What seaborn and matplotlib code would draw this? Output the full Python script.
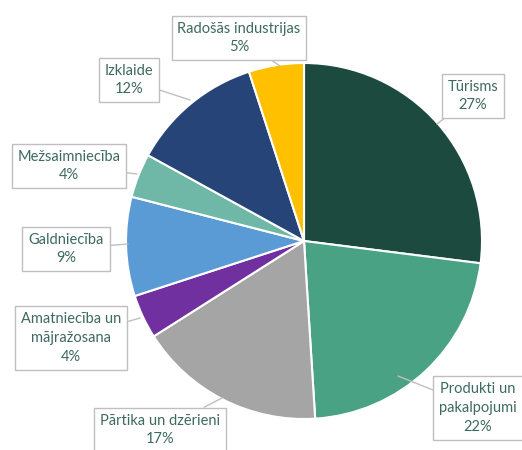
import seaborn as sns
import matplotlib.pyplot as plt

categories = ['Tūrisms', 'Produkti un\npakalpojumi', 'Pārtika un dzērieni',
              'Amatniecība un\nmājražosana', 'Galdniecība', 'Mežsaimniecība',
              'Izklaide', 'Radošās industrijas']
shares = [27, 22, 17, 4, 9, 4, 12, 5]
colors = ['#1D4A3F', '#48A283', '#A5A5A5', '#7030A0', '#5B9BD5', '#6FB7A6',
          '#264478', '#FFC000']

# label box centres and leader end points (pixel coords, y from top)
label_pos = [(473, 96), (478, 408), (160, 430), (71, 338), (66, 249),
             (69, 166), (129, 80), (239, 38)]
leader_to = [(437, 124), (398, 376), (222, 398), (140, 318), (128, 244),
             (137, 174), (190, 100), (280, 66)]


def main():
    sns.set_theme(style='white')
    plt.rcParams['font.family'] = ['Lato', 'DejaVu Sans']

    fig = plt.figure(figsize=(5.22, 4.5), dpi=100)
    ax = fig.add_axes([0, 0, 1, 1])

    ax.pie(shares, colors=colors, startangle=90, counterclock=False,
           center=(304, 450 - 241), radius=178,
           wedgeprops=dict(edgecolor='white', linewidth=1.5))

    for cat, val, (x, y), (lx, ly) in zip(categories, shares, label_pos, leader_to):
        ax.annotate(cat + '\n' + str(val) + '%', xy=(lx, 450 - ly), xytext=(x, 450 - y),
                    ha='center', va='center', fontsize=10.5, color='#3D6A5E',
                    linespacing=1.45,
                    bbox=dict(boxstyle='square,pad=0.4', fc='white', ec='#BFBFBF', lw=1),
                    arrowprops=dict(arrowstyle='-', color='#BFBFBF', lw=1,
                                    shrinkA=0, shrinkB=0))

    ax.set_xlim(0, 522)
    ax.set_ylim(0, 450)
    ax.set_aspect('equal')
    ax.axis('off')
    plt.savefig('out.png', dpi=100)


if __name__ == "__main__":
    main()
